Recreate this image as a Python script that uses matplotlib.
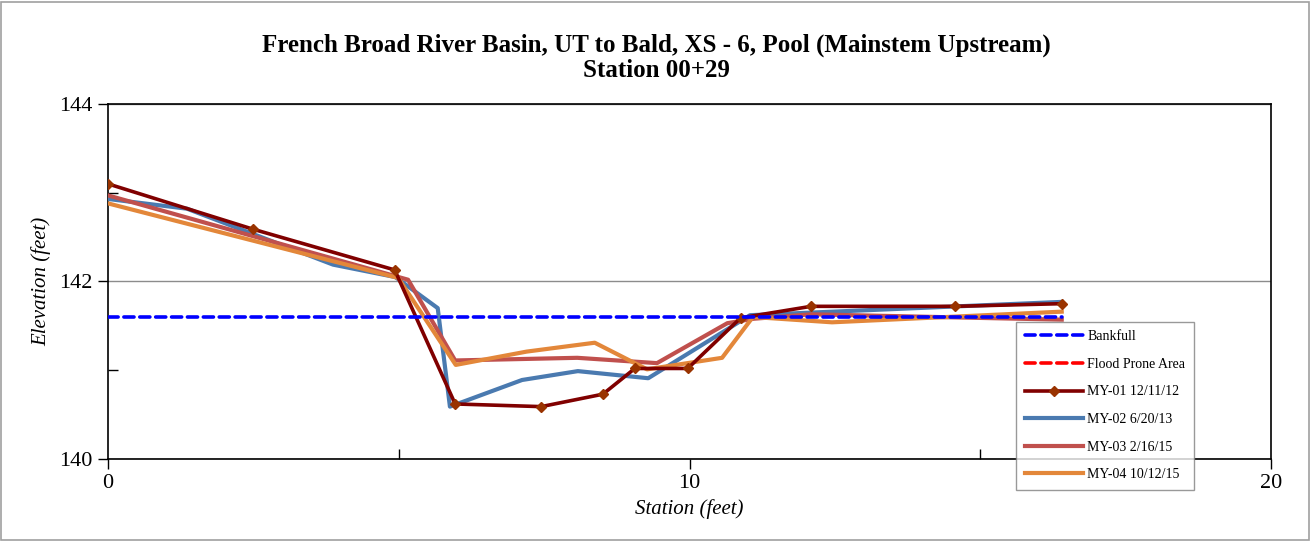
import matplotlib.pyplot as plt
from matplotlib.patches import Rectangle
from matplotlib.ticker import MultipleLocator

plt.rcParams['font.family'] = ['Liberation Serif', 'DejaVu Serif']

# Bankfull / flood prone elevations
bankfull_x = [0, 16.4]
bankfull_y = [141.6, 141.6]
flood_x = []
flood_y = []

# survey data (station ft, elevation ft)
my01_x = [0, 2.49, 4.93, 5.97, 7.45, 8.51, 9.06, 9.97, 10.88, 12.09, 14.57, 16.40]
my01_y = [143.10, 142.59, 142.13, 140.62, 140.59, 140.73, 141.02, 141.02, 141.59, 141.72, 141.72, 141.75]

my02_x = [0, 1.36, 3.87, 4.94, 5.67, 5.88, 7.12, 8.08, 9.29, 11.04, 16.40]
my02_y = [142.93, 142.82, 142.19, 142.05, 141.70, 140.59, 140.89, 140.99, 140.91, 141.62, 141.77]

my03_x = [0, 5.16, 5.97, 8.07, 9.44, 10.65, 11.10, 12.09, 16.40]
my03_y = [142.97, 142.02, 141.11, 141.14, 141.08, 141.53, 141.58, 141.63, 141.57]

my04_x = [0, 4.99, 5.98, 7.20, 8.37, 9.27, 10.56, 11.09, 12.45, 16.40]
my04_y = [142.88, 142.04, 141.06, 141.21, 141.31, 141.01, 141.14, 141.60, 141.54, 141.66]

fig = plt.figure(figsize=(13.12, 5.41), dpi=100)
ax = fig.add_axes([0.0823, 0.1516, 0.8865, 0.6562])

ax.plot(bankfull_x, bankfull_y, color='#0000FF', lw=2.6, ls=(0, (2.8, 1.6)),
        dash_capstyle='round', label='Bankfull', zorder=5)
ax.plot(flood_x, flood_y, color='#FF0000', lw=2.6, ls=(0, (2.8, 1.6)),
        dash_capstyle='round', label='Flood Prone Area')
ax.plot(my01_x, my01_y, color='#800000', lw=2.6, marker='D', ms=5,
        mfc='#993300', mec='#993300', label='MY-01 12/11/12', zorder=4)
ax.plot(my02_x, my02_y, color='#4A7AB0', lw=3, label='MY-02 6/20/13', zorder=3)
ax.plot(my03_x, my03_y, color='#C0504D', lw=3, label='MY-03 2/16/15', zorder=3)
ax.plot(my04_x, my04_y, color='#E3873A', lw=3, label='MY-04 10/12/15', zorder=3)

ax.set_xlim(0, 20)
ax.set_ylim(140, 144)
ax.xaxis.set_major_locator(MultipleLocator(10))
ax.xaxis.set_minor_locator(MultipleLocator(5))
ax.yaxis.set_major_locator(MultipleLocator(2))
ax.yaxis.set_minor_locator(MultipleLocator(1))
ax.tick_params(which='major', direction='out', length=7, width=1, labelsize=16, pad=4)
ax.tick_params(which='minor', direction='in', length=7, width=1)
ax.grid(axis='y', which='major', color='#8c8c8c', lw=1)
ax.set_axisbelow(True)
for s in ax.spines.values():
    s.set_linewidth(1.2)

ax.set_xlabel('Station (feet)', fontsize=15, style='italic', labelpad=4)
ax.set_ylabel('Elevation (feet)', fontsize=15, style='italic', labelpad=6)
fig.text(0.5, 0.893, 'French Broad River Basin, UT to Bald, XS - 6, Pool (Mainstem Upstream)\nStation 00+29',
         ha='center', va='center', fontsize=18, fontweight='bold', linespacing=1.1)

leg = ax.legend(loc='upper left', bbox_to_anchor=(0.781, 0.386), borderaxespad=0,
                fontsize=10, handlelength=4.2, labelspacing=1.05, frameon=True,
                fancybox=False, edgecolor='#808080', borderpad=0.6, handletextpad=0.3)
leg.get_frame().set_linewidth(1)
leg.set_zorder(10)

fig.patches.append(Rectangle((0.001, 0.002), 0.997, 0.995, transform=fig.transFigure,
                             fill=False, edgecolor='#a0a0a0', lw=1.2))

fig.savefig('out.png', dpi=100)
